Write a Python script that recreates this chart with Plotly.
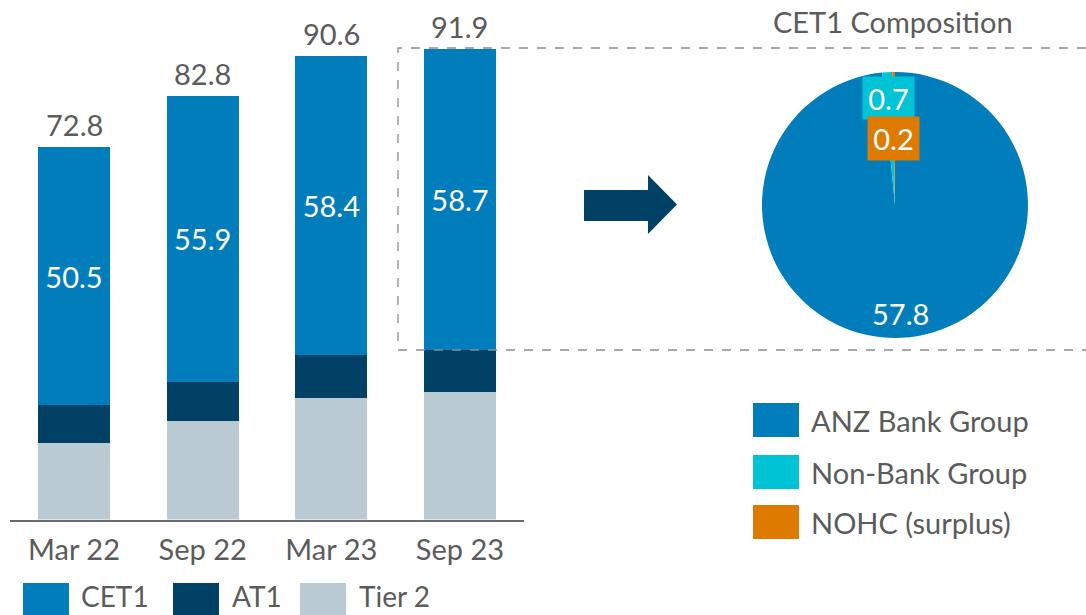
import plotly.graph_objects as go

# ---------------- data ----------------
categories = ["Mar 22", "Sep 22", "Mar 23", "Sep 23"]
cet1 = [50.5, 55.9, 58.4, 58.7]
at1 = [7.4, 7.6, 8.4, 8.2]
tier2 = [14.9, 19.3, 23.8, 25.0]
totals = [72.8, 82.8, 90.6, 91.9]

pie_labels = ["ANZ Bank Group", "Non-Bank Group", "NOHC (surplus)"]
pie_values = [57.8, 0.7, 0.2]

# ---------------- style ----------------
W, H = 1086, 615
FONT = "Lato"
GREY = "#5b5b5b"
C_CET1 = "#007dba"
C_AT1 = "#004165"
C_T2 = "#b9cad2"
PIE_COLORS = ["#007dba", "#00c4d6", "#df7a00"]
FS = 29


def px(x):
    return x / W


def py(y):
    return 1 - y / H


fig = go.Figure()

fig.add_trace(go.Bar(x=categories, y=tier2, name="Tier 2", marker_color=C_T2,
                     marker_line_width=0, hoverinfo="y"))
fig.add_trace(go.Bar(x=categories, y=at1, name="AT1", marker_color=C_AT1,
                     marker_line_width=0, hoverinfo="y"))
fig.add_trace(go.Bar(x=categories, y=cet1, name="CET1", marker_color=C_CET1,
                     marker_line_width=0, text=[f"{v:.1f}" for v in cet1],
                     textposition="inside", insidetextanchor="middle",
                     textfont=dict(family=FONT, size=FS, color="white"),
                     hoverinfo="y"))

fig.add_trace(go.Pie(labels=pie_labels, values=pie_values, sort=False,
                     direction="clockwise", rotation=0,
                     marker=dict(colors=PIE_COLORS, line=dict(width=0)),
                     textinfo="none", showlegend=False,
                     domain=dict(x=[px(762), px(1028)], y=[py(338), py(72)])))

annotations = []
# totals above bars
for c, t in zip(categories, totals):
    annotations.append(dict(x=c, y=t, xref="x", yref="y", text=f"{t:.1f}",
                            showarrow=False, yanchor="bottom", yshift=3,
                            font=dict(family=FONT, size=FS, color=GREY)))

# pie labels
annotations.append(dict(x=px(888.5), y=py(98), xref="paper", yref="paper",
                        text=f"{pie_values[1]:.1f}", showarrow=False,
                        bgcolor=PIE_COLORS[1], width=49, height=40,
                        xanchor="center", yanchor="middle",
                        font=dict(family=FONT, size=FS, color="white")))
annotations.append(dict(x=px(893.5), y=py(138.5), xref="paper", yref="paper",
                        text=f"{pie_values[2]:.1f}", showarrow=False,
                        bgcolor=PIE_COLORS[2], width=49, height=41,
                        xanchor="center", yanchor="middle",
                        font=dict(family=FONT, size=FS, color="white")))
annotations.append(dict(x=px(900), y=py(313), xref="paper", yref="paper",
                        text=f"{pie_values[0]:.1f}", showarrow=False,
                        xanchor="center", yanchor="middle",
                        font=dict(family=FONT, size=FS, color="white")))
# title
annotations.append(dict(x=px(893), y=py(22), xref="paper", yref="paper",
                        text="CET1 Composition", showarrow=False,
                        xanchor="center", yanchor="middle",
                        font=dict(family=FONT, size=FS, color=GREY)))

shapes = []
# dashed box
shapes.append(dict(type="rect", xref="paper", yref="paper",
                   x0=px(398), x1=px(1095), y0=py(350), y1=py(48),
                   line=dict(color="#8c8c8c", width=1.3, dash="dash"),
                   fillcolor="rgba(0,0,0,0)", layer="above"))
# arrow
pts = [(584, 190), (648, 190), (648, 175), (677, 204.5), (648, 234), (648, 221), (584, 221)]
path = "M " + " L ".join(f"{px(x):.5f},{py(y):.5f}" for x, y in pts) + " Z"
shapes.append(dict(type="path", xref="paper", yref="paper", path=path,
                   fillcolor=C_AT1, line=dict(width=0)))

# bottom legend (CET1, AT1, Tier 2)
bottom_leg = [("CET1", C_CET1, 23, 79), ("AT1", C_AT1, 173, 230), ("Tier 2", C_T2, 300, 357)]
for name, col, sx, tx in bottom_leg:
    shapes.append(dict(type="rect", xref="paper", yref="paper",
                       x0=px(sx), x1=px(sx + 46), y0=py(620), y1=py(583),
                       fillcolor=col, line=dict(width=0)))
    annotations.append(dict(x=px(tx), y=py(596), xref="paper", yref="paper",
                            text=name, showarrow=False, xanchor="left", yanchor="middle",
                            font=dict(family=FONT, size=28, color=GREY)))

# right legend (pie)
right_leg_y = [420, 472, 522]
for name, col, cy in zip(pie_labels, PIE_COLORS, right_leg_y):
    shapes.append(dict(type="rect", xref="paper", yref="paper",
                       x0=px(753), x1=px(799), y0=py(cy + 17), y1=py(cy - 17),
                       fillcolor=col, line=dict(width=0)))
    annotations.append(dict(x=px(809), y=py(cy), xref="paper", yref="paper",
                            text=name, showarrow=False, xanchor="left", yanchor="middle",
                            font=dict(family=FONT, size=FS, color=GREY)))

fig.update_layout(
    width=W, height=H,
    margin=dict(l=0, r=0, t=0, b=0),
    paper_bgcolor="white", plot_bgcolor="white",
    barmode="stack", bargap=0.44,
    showlegend=False,
    font=dict(family=FONT, size=FS, color=GREY),
    xaxis=dict(domain=[px(9.7), px(524.3)], range=[-0.5, 3.5],
               showline=True, linecolor="#6b6b6b", linewidth=2,
               showgrid=False, zeroline=False,
               ticks="outside", ticklen=4, tickcolor="rgba(0,0,0,0)",
               tickfont=dict(family=FONT, size=FS, color=GREY)),
    yaxis=dict(domain=[py(519.5), py(7.5)], range=[0, 100], visible=False,
               showgrid=False, zeroline=False),
    annotations=annotations, shapes=shapes,
)

fig.write_html("out.html", config={"displayModeBar": False},
               post_script="document.body.style.margin='0px';document.body.style.overflow='hidden';")
